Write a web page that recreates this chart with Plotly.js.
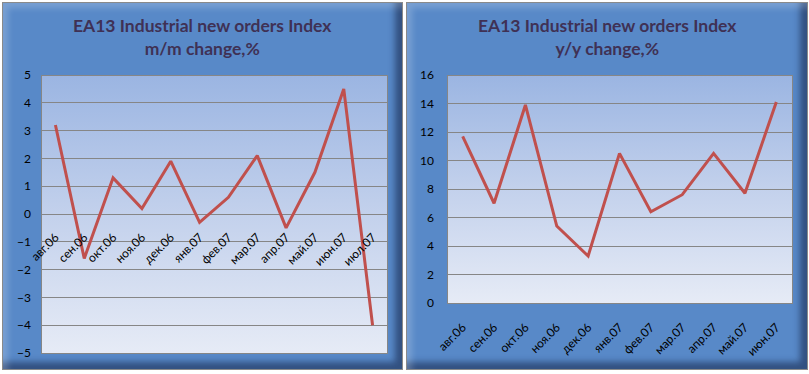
<!DOCTYPE html>
<html>
<head>
<meta charset="utf-8">
<script src="https://cdn.plot.ly/plotly-3.0.1.min.js"></script>
<style>
  html, body { margin:0; padding:0; background:#ffffff; }
  #wrap { position:relative; width:809px; height:374px; overflow:hidden; }
  .panel { position:absolute; box-sizing:border-box; border:1px solid #8a8a8a;
    background:#5889c8;
    box-shadow: inset 5px 5px 6px rgba(255,255,255,0.2), inset -7px -7px 6px rgba(20,35,70,0.55); }
  .pa { position:absolute; box-sizing:border-box; border:1px solid #868686;
    background:linear-gradient(to bottom, #9bb5e2 0%, #c3d1ec 50%, #e6ebf6 100%); }
  #chart { position:absolute; left:0; top:0; width:809px; height:374px; }
</style>
</head>
<body>
<div id="wrap">
  <div class="panel" style="left:2px;top:2px;width:401px;height:368px;"></div>
  <div class="panel" style="left:406px;top:2px;width:402px;height:368px;"></div>
  <div class="pa" id="pa1"></div>
  <div class="pa" id="pa2"></div>
  <div id="chart"></div>
</div>
<script>
// ---- data ----
const categoriesMM = ["авг.06","сен.06","окт.06","ноя.06","дек.06","янв.07","фев.07","мар.07","апр.07","май.07","июн.07","июл.07"];
const valuesMM = [3.2, -1.6, 1.3, 0.2, 1.9, -0.3, 0.6, 2.1, -0.5, 1.5, 4.5, -4.0];
const categoriesYY = ["авг.06","сен.06","окт.06","ноя.06","дек.06","янв.07","фев.07","мар.07","апр.07","май.07","июн.07"];
const valuesYY = [11.7, 7.0, 13.9, 5.4, 3.3, 10.5, 6.4, 7.6, 10.5, 7.7, 14.1];
const ticksMM = [-5,-4,-3,-2,-1,0,1,2,3,4,5];
const ticksYY = [0,2,4,6,8,10,12,14,16];
const titleMM = "<b>EA13 Industrial new orders Index</b><br><b>m/m change,%</b>";
const titleYY = "<b>EA13 Industrial new orders Index</b><br><b>y/y change,%</b>";

// ---- layout geometry (pixels) ----
const W = 809, H = 374;
const p1 = {x0:41, x1:387, y0:75, y1:353};
const p2 = {x0:447, x1:792, y0:75, y1:303};
function place(id, p){
  const el = document.getElementById(id);
  el.style.left = p.x0 + 'px'; el.style.top = p.y0 + 'px';
  el.style.width = (p.x1 - p.x0 + 1) + 'px'; el.style.height = (p.y1 - p.y0 + 1) + 'px';
}
place('pa1', p1); place('pa2', p2);
const dx = p => [p.x0 / W, p.x1 / W];
const dy = p => [(H - p.y1) / H, (H - p.y0) / H];

const lineColor = '#c0504d';
const tickFont = {family:'Lato, "DejaVu Sans", sans-serif', size:12, color:'#000000'};
const titleFont = {family:'Lato, "Open Sans", sans-serif', size:17.5, color:'#3f3155'};

const traces = [
  {x: categoriesMM, y: valuesMM, type:'scatter', mode:'lines', xaxis:'x', yaxis:'y',
   line:{color:lineColor, width:3}, hoverinfo:'skip', cliponaxis:false},
  {x: categoriesYY, y: valuesYY, type:'scatter', mode:'lines', xaxis:'x2', yaxis:'y2',
   line:{color:lineColor, width:3}, hoverinfo:'skip', cliponaxis:false}
];

const yd1 = dy(p1);
const layout = {
  width: W, height: H,
  margin: {l:0, r:0, t:0, b:0, pad:0},
  paper_bgcolor: 'rgba(0,0,0,0)', plot_bgcolor: 'rgba(0,0,0,0)',
  showlegend: false,
  xaxis: {domain: dx(p1), anchor:'free', position:(yd1[0]+yd1[1])/2, type:'category',
          range:[-0.5, categoriesMM.length-0.5], showgrid:false, zeroline:false, showline:false,
          ticks:'', tickangle:-45, tickfont:tickFont, ticklabelstandoff:13},
  yaxis: {domain: yd1, anchor:'x', range:[-5,5], tickvals:ticksMM, showgrid:true,
          gridcolor:'#868686', gridwidth:1, zeroline:false, showline:false, ticks:'',
          tickfont:tickFont, ticklabelstandoff:9},
  xaxis2: {domain: dx(p2), anchor:'y2', type:'category',
          range:[-0.5, categoriesYY.length-0.5], showgrid:false, zeroline:false, showline:false,
          ticks:'', tickangle:-45, tickfont:tickFont, ticklabelstandoff:14},
  yaxis2: {domain: dy(p2), anchor:'x2', range:[0,16], tickvals:ticksYY, showgrid:true,
          gridcolor:'#868686', gridwidth:1, zeroline:false, showline:false, ticks:'',
          tickfont:tickFont, ticklabelstandoff:12},
  annotations: [
    {text:titleMM, xref:'paper', yref:'paper', x:203/W, y:(H-37)/H, xanchor:'center', yanchor:'middle',
     showarrow:false, font:titleFont, align:'center'},
    {text:titleYY, xref:'paper', yref:'paper', x:607/W, y:(H-37)/H, xanchor:'center', yanchor:'middle',
     showarrow:false, font:titleFont, align:'center'}
  ]
};
Plotly.newPlot('chart', traces, layout, {staticPlot:true, displayModeBar:false});
</script>
</body>
</html>
